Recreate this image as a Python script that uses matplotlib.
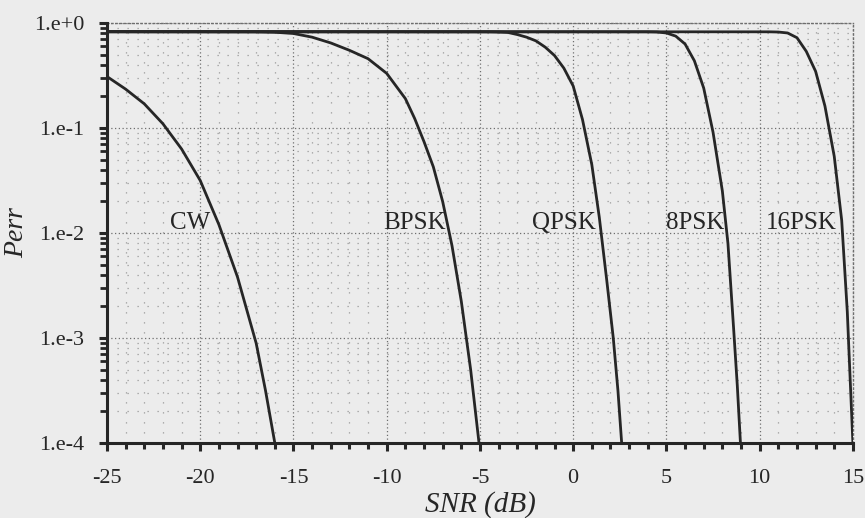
import numpy as np
import matplotlib
matplotlib.use("Agg")
import matplotlib.pyplot as plt
from matplotlib.ticker import FixedLocator, FixedFormatter, LogLocator, NullFormatter

plt.rcParams['font.family'] = ['Liberation Serif', 'DejaVu Serif']

# values: SNR (dB) and log10(Perr)
snrCW = [-25, -24, -23, -22, -21, -20, -19, -18, -17, -16.5, -16.0]
expCW = [-0.51, -0.63, -0.77, -0.96, -1.20, -1.50, -1.92, -2.42, -3.05, -3.50, -4.0]

snrBPSK = [-25, -17, -16, -15, -14, -13, -12, -11, -10, -9, -8.5, -8, -7.5, -7, -6.5, -6, -5.5, -5.05]
expBPSK = [-0.083, -0.084, -0.088, -0.10, -0.135, -0.19, -0.26, -0.34, -0.48, -0.72, -0.91, -1.13,
           -1.37, -1.70, -2.12, -2.65, -3.3, -4.0]

snrQPSK = [-25, -4.5, -4, -3.5, -3, -2.5, -2, -1.5, -1, -0.5, 0.0, 0.5, 1.0, 1.4, 1.8, 2.15, 2.4, 2.6]
expQPSK = [-0.083, -0.084, -0.086, -0.09, -0.11, -0.135, -0.17, -0.23, -0.31, -0.43, -0.60, -0.92,
           -1.35, -1.85, -2.45, -3.0, -3.5, -4.0]

snr8PSK = [-25, 4.0, 4.5, 5.0, 5.5, 6.0, 6.5, 7.0, 7.5, 8.0, 8.3, 8.6, 8.8, 8.97]
exp8PSK = [-0.083, -0.084, -0.086, -0.095, -0.125, -0.20, -0.36, -0.62, -1.04, -1.6, -2.1, -2.9,
           -3.45, -4.0]

snr16PSK = [-25, 10.5, 11.0, 11.5, 12.0, 12.5, 13.0, 13.5, 14.0, 14.4, 14.7, 15.0]
exp16PSK = [-0.083, -0.084, -0.086, -0.095, -0.14, -0.27, -0.46, -0.79, -1.27, -1.88, -2.75, -4.0]

curveNames = ["CW", "BPSK", "QPSK", "8PSK", "16PSK"]
labelX = [-20.55, -8.5, -0.5, 6.55, 12.25]
labelY = [0.0108, 0.0108, 0.0108, 0.0108, 0.0108]

yTicks = [1e-4, 1e-3, 1e-2, 1e-1, 1e0]
yTickLabels = ["1.e-4", "1.e-3", "1.e-2", "1.e-1", "1.e+0"]
xTicks = [-25, -20, -15, -10, -5, 0, 5, 10, 15]

bg = "#ececec"
ink = "#262626"

fig = plt.figure(figsize=(8.65, 5.18), dpi=100, facecolor=bg)
ax = fig.add_axes([0.1237, 0.1448, 0.8623, 0.8108], facecolor=bg)

allSnr = [snrCW, snrBPSK, snrQPSK, snr8PSK, snr16PSK]
allExp = [expCW, expBPSK, expQPSK, exp8PSK, exp16PSK]
for s, e in zip(allSnr, allExp):
    ax.plot(s, 10.0 ** np.array(e), color=ink, lw=2.0, solid_joinstyle="round", zorder=3)

for name, lx, ly in zip(curveNames, labelX, labelY):
    ax.text(lx, ly, name, fontsize=18, color=ink, ha="center", va="baseline", zorder=4)

ax.set_yscale("log")
ax.set_xlim(-25, 15)
ax.set_ylim(1e-4, 1e0)

ax.yaxis.set_major_locator(FixedLocator(yTicks))
ax.yaxis.set_major_formatter(FixedFormatter(yTickLabels))
ax.yaxis.set_minor_locator(LogLocator(base=10, subs=np.arange(2, 10)))
ax.yaxis.set_minor_formatter(NullFormatter())
ax.set_xticks(xTicks)
ax.set_xticklabels([str(t) for t in xTicks])
ax.set_xticks(np.arange(-25, 16, 1), minor=True)

# grids
ax.grid(True, which="major", linestyle=(0, (1, 2)), color="#6e6e6e", lw=0.9, zorder=1)
ax.grid(True, which="minor", linestyle=(0, (1, 7)), color="#9a9a9a", lw=0.9, zorder=1)
ax.set_axisbelow(True)

for side in ["top", "right"]:
    ax.spines[side].set_linestyle((0, (1, 2)))
    ax.spines[side].set_linewidth(1.0)
    ax.spines[side].set_color("#6e6e6e")
for side in ["left", "bottom"]:
    ax.spines[side].set_linewidth(2.2)
    ax.spines[side].set_color(ink)
    ax.spines[side].set_zorder(5)

ax.tick_params(axis="y", which="major", direction="out", length=5.5, width=2.2, color=ink,
               labelsize=16, pad=11, labelcolor=ink)
ax.tick_params(axis="y", which="minor", direction="out", length=5.0, width=2.0, color=ink)
ax.tick_params(axis="x", which="major", direction="out", length=6.0, width=2.2, color=ink,
               labelsize=16, pad=13, labelcolor=ink)
ax.tick_params(axis="x", which="minor", direction="out", length=4.0, width=2.2, color=ink)

ax.set_xlabel("SNR (dB)", fontsize=21, style="italic", color=ink, labelpad=2)
ax.set_ylabel("Perr", fontsize=20, style="italic", color=ink, labelpad=3)

fig.savefig("out.png", dpi=100, facecolor=bg)
